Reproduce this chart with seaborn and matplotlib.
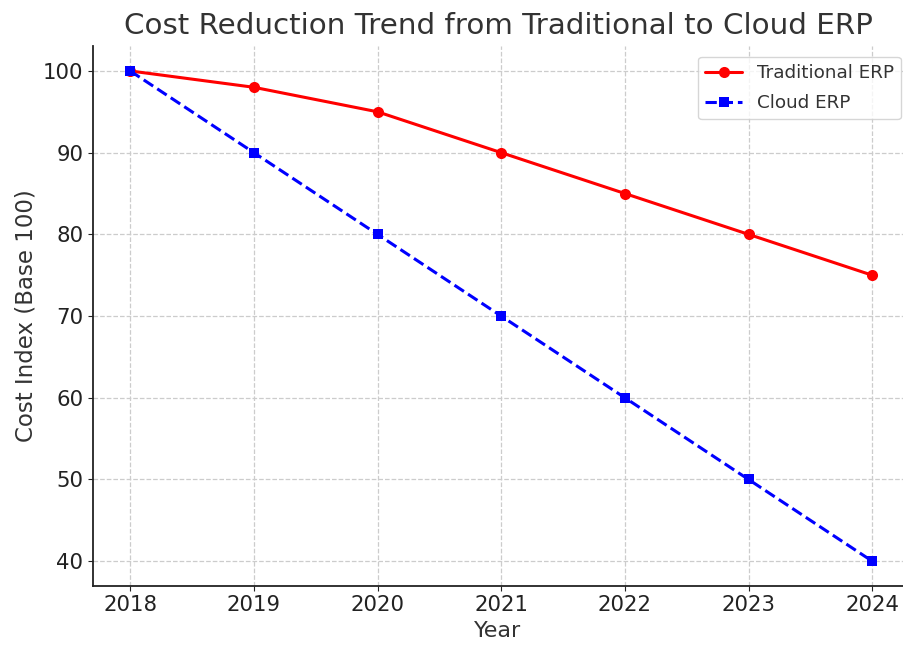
import numpy as np
import pandas as pd
import matplotlib
matplotlib.use("Agg")
import matplotlib.pyplot as plt
import seaborn as sns

# Valores
anos = [2018, 2019, 2020, 2021, 2022, 2023, 2024]
tradicional = [100, 98, 95, 90, 85, 80, 75]
nuvem = [100, 90, 80, 70, 60, 50, 40]
series = ["Traditional ERP", "Cloud ERP"]

sns.set_style("ticks")
plt.rcParams["font.family"] = ["DejaVu Sans"]
plt.rcParams["text.color"] = "#333333"
plt.rcParams["axes.labelcolor"] = "#333333"
plt.rcParams["xtick.color"] = "#222222"
plt.rcParams["ytick.color"] = "#222222"

df = pd.DataFrame({"Year": anos + anos,
                   "Cost": tradicional + nuvem,
                   "Serie": [series[0]] * len(anos) + [series[1]] * len(anos)})

fig, ax = plt.subplots(figsize=(9.04, 6.45), dpi=100)

sns.lineplot(data=df[df["Serie"] == series[0]], x="Year", y="Cost", ax=ax,
             color="red", marker="o", markersize=8, linewidth=2.2,
             markeredgewidth=0, label=series[0])
sns.lineplot(data=df[df["Serie"] == series[1]], x="Year", y="Cost", ax=ax,
             color="blue", marker="s", markersize=7, linewidth=2.2,
             linestyle="--", markeredgewidth=0, label=series[1])

ax.grid(True, linestyle="--", color="#cccccc", linewidth=0.9)
ax.set_axisbelow(True)
for s in ["top", "right"]:
    ax.spines[s].set_visible(False)
for s in ["left", "bottom"]:
    ax.spines[s].set_color("#222222")
    ax.spines[s].set_linewidth(1.3)

ax.set_xticks(anos)
ax.set_xlim(2017.7, 2024.25)
ax.set_yticks([40, 50, 60, 70, 80, 90, 100])
ax.tick_params(labelsize=15.3)
ax.set_xlabel("Year", fontsize=16)
ax.set_ylabel("Cost Index (Base 100)", fontsize=16.5)
ax.set_title("Cost Reduction Trend from Traditional to Cloud ERP", fontsize=21.2, pad=9)
ax.legend(fontsize=13.2, loc="upper right", frameon=True, borderaxespad=0,
          bbox_to_anchor=(0.9975, 0.981), labelspacing=0.65)

plt.subplots_adjust(left=0.103, right=0.999, top=0.928, bottom=0.092)
plt.savefig("out.png", dpi=100)
